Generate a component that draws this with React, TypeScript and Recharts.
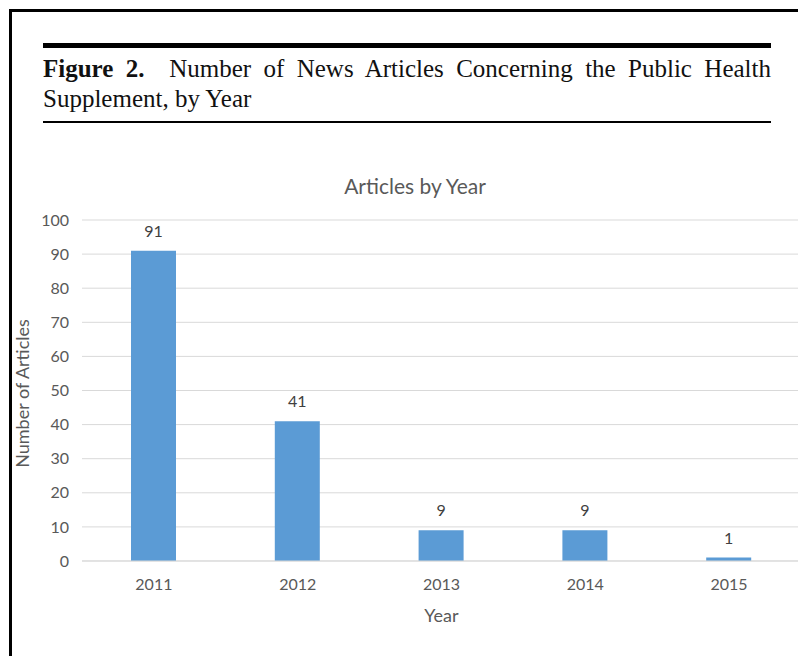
import { BarChart, Bar, XAxis, YAxis, CartesianGrid, LabelList, Label } from 'recharts';

const years = ['2011', '2012', '2013', '2014', '2015'];
const articleCounts = [91, 41, 9, 9, 1];
const yTicks = [0, 10, 20, 30, 40, 50, 60, 70, 80, 90, 100];

const chartData = years.map((year, i) => ({ year, count: articleCounts[i] }));

const GREY = '#595959';
const BAR_BLUE = '#5B9BD5';
const CHART_FONT = 'Lato, "Open Sans", sans-serif';
const SERIF = '"Liberation Serif", "DejaVu Serif", serif';

export default function App() {
  return (
    <div style={{ position: 'absolute', left: 0, top: 0, width: 798, height: 656, overflow: 'hidden', background: '#fff' }}>
      {/* page frame: left and top rules */}
      <div style={{ position: 'absolute', left: 9, top: 9, width: 800, height: 700, borderLeft: '3px solid #000', borderTop: '3px solid #000' }} />

      {/* figure heading */}
      <div style={{ position: 'absolute', left: 43, top: 43, width: 728, height: 5, background: '#000' }} />
      <div style={{ position: 'absolute', left: 43, top: 54, width: 728, fontFamily: SERIF, fontSize: 25, lineHeight: '30px', color: '#111' }}>
        <div style={{ textAlign: 'justify', textAlignLast: 'justify' }}>
          <b>Figure 2.</b>&nbsp; Number of News Articles Concerning the Public Health
        </div>
        <div>Supplement, by Year</div>
      </div>
      <div style={{ position: 'absolute', left: 43, top: 121, width: 728, height: 1.5, background: '#000' }} />

      {/* chart title */}
      <div style={{ position: 'absolute', left: 215, top: 173, width: 400, textAlign: 'center', fontFamily: CHART_FONT, fontSize: 21, color: GREY }}>
        Articles by Year
      </div>

      <div style={{ position: 'absolute', left: 0, top: 160 }}>
        <BarChart
          width={820}
          height={490}
          data={chartData}
          margin={{ top: 60, right: 19, left: 0, bottom: 0 }}
          barSize={45}
          style={{ fontFamily: CHART_FONT }}
        >
          <CartesianGrid vertical={false} stroke="#D9D9D9" strokeWidth={1} />
          <XAxis
            dataKey="year"
            height={89}
            tickLine={false}
            tickSize={0}
            tickMargin={18}
            axisLine={{ stroke: '#D9D9D9' }}
            tick={{ fill: GREY, fontSize: 16 }}
          >
            <Label value="Year" position="insideBottom" offset={28} fill={GREY} fontSize={18} />
          </XAxis>
          <YAxis
            width={82}
            domain={[0, 100]}
            ticks={yTicks}
            axisLine={false}
            tickLine={false}
            tickSize={0}
            tickMargin={13}
            tick={{ fill: GREY, fontSize: 16 }}
          >
            <Label
              content={({ viewBox }: any) => {
                const cx = 22;
                const cy = viewBox.y + viewBox.height / 2 + 3;
                return (
                  <text x={cx} y={cy} transform={`rotate(-90, ${cx}, ${cy})`} textAnchor="middle" dominantBaseline="central" fill={GREY} fontSize={18}>
                    Number of Articles
                  </text>
                );
              }}
            />
          </YAxis>
          <Bar dataKey="count" fill={BAR_BLUE} isAnimationActive={false}>
            <LabelList dataKey="count" position="top" offset={14} fill="#404040" fontSize={16} />
          </Bar>
        </BarChart>
      </div>
    </div>
  );
}
